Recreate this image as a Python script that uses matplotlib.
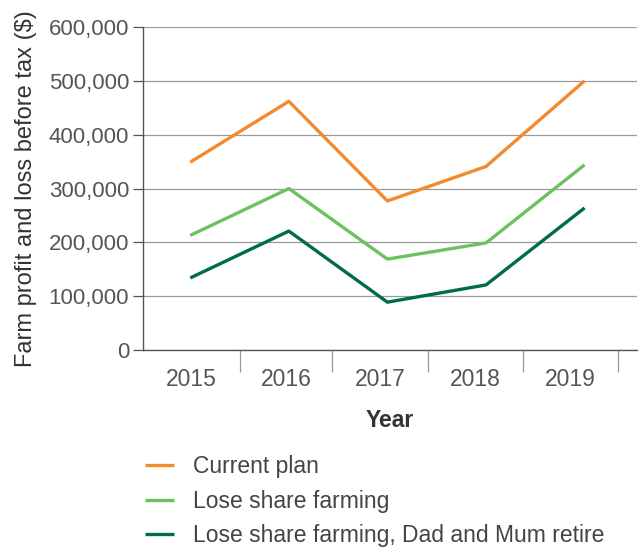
import matplotlib
matplotlib.use("Agg")
import matplotlib.pyplot as plt
import numpy as np

plt.rcParams['font.family'] = ['Liberation Sans', 'DejaVu Sans']

years = ["2015", "2016", "2017", "2018", "2019"]
current_plan = [349000, 462000, 277000, 341000, 500000]
lose_share = [213000, 300000, 169000, 199000, 344000]
lose_share_retire = [134000, 221000, 89000, 121000, 264000]
series_names = ["Current plan", "Lose share farming", "Lose share farming, Dad and Mum retire"]
colores = ["#F58A2C", "#6CC25E", "#006B4E"]

fig = plt.figure(figsize=(6.4, 5.47), dpi=100)
ax = fig.add_axes([0.2234, 0.360, 0.7716, 0.5906])

x = np.arange(len(years))
for dados, nome, cor in zip([current_plan, lose_share, lose_share_retire], series_names, colores):
    ax.plot(x, dados, color=cor, lw=2.4, label=nome, solid_capstyle='butt')

ax.set_ylim(0, 600000)
ax.set_xlim(-0.48, 4.53)
ax.set_yticks(np.arange(0, 600001, 100000))
ax.set_yticklabels([f"{v:,}" for v in range(0, 600001, 100000)])
ax.grid(axis='y', color='#9a9a9a', lw=0.9)
ax.set_axisbelow(True)

# marcas entre os anos, rotulos no meio de cada faixa
limites = [-0.48, 0.506, 1.44, 2.41, 3.38, 4.34]
ax.set_xticks(limites[1:], minor=True)
meios = [(limites[i] + limites[i + 1]) / 2 for i in range(len(years))]
ax.set_xticks(meios)
ax.set_xticklabels(years)
ax.tick_params(axis='x', length=0, pad=13, labelsize=16.5, labelcolor='#555555')
ax.tick_params(axis='x', which='minor', length=16, width=0.9, color='#999999')
ax.tick_params(axis='y', length=7, width=0.9, color='#555555', pad=3, labelsize=16, labelcolor='#555555')

for s in ['top', 'right']:
    ax.spines[s].set_visible(False)
for s in ['left', 'bottom']:
    ax.spines[s].set_color('#555555')
    ax.spines[s].set_linewidth(1.0)

ax.set_xlabel("Year", fontsize=16.5, color='#333333', labelpad=13, fontweight='bold')
ax.set_ylabel("Farm profit and loss before tax ($)", fontsize=17, color='#333333', labelpad=8)

fig.legend(loc='upper left', bbox_to_anchor=(0.226, 0.168), frameon=False, fontsize=16.5,
           handlelength=1.3, handletextpad=0.8, labelspacing=0.5, labelcolor='#444444',
           borderaxespad=0, borderpad=0)

fig.savefig("out.png", dpi=100)
